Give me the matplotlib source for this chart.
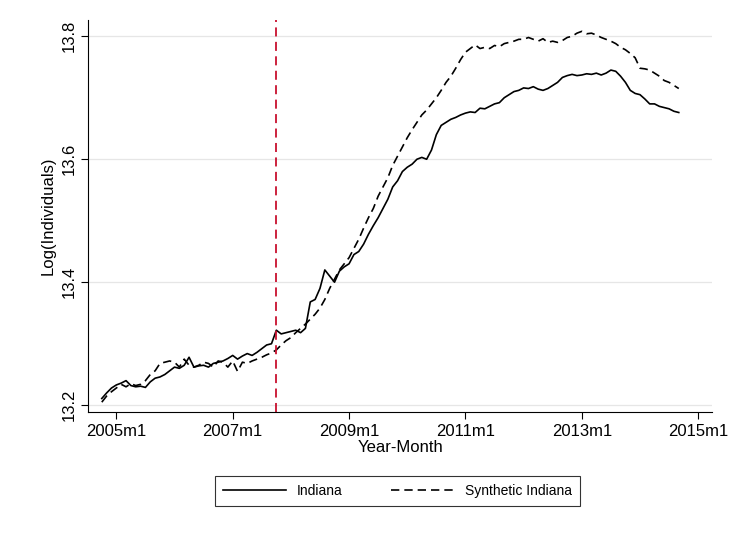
import matplotlib
matplotlib.use("Agg")
import matplotlib.pyplot as plt
import numpy as np
plt.rcParams['font.family'] = ['Liberation Sans', 'DejaVu Sans']

start_year, start_month = 2004, 10
indiana = [13.211, 13.220, 13.228,
 13.233, 13.236, 13.240, 13.232, 13.230, 13.231, 13.229, 13.238, 13.244, 13.246, 13.250, 13.256,
 13.262, 13.260, 13.265, 13.278, 13.262, 13.264, 13.265, 13.262, 13.268, 13.270, 13.272, 13.276,
 13.281, 13.275, 13.280, 13.284, 13.281, 13.286, 13.292, 13.298, 13.300, 13.322, 13.316, 13.318,
 13.320, 13.322, 13.318, 13.325, 13.368, 13.372, 13.390, 13.420, 13.410, 13.400, 13.418, 13.425,
 13.430, 13.445, 13.450, 13.462, 13.478, 13.492, 13.505, 13.520, 13.535, 13.555, 13.565, 13.580,
 13.587, 13.592, 13.600, 13.603, 13.600, 13.615, 13.640, 13.655, 13.660, 13.665, 13.668, 13.672,
 13.675, 13.677, 13.676, 13.683, 13.682, 13.686, 13.690, 13.692, 13.700, 13.705, 13.710, 13.712,
 13.716, 13.715, 13.718, 13.714, 13.712, 13.715, 13.720, 13.725, 13.733, 13.736, 13.738, 13.736,
 13.737, 13.739, 13.738, 13.740, 13.737, 13.740, 13.745, 13.743, 13.735, 13.725, 13.712, 13.707,
 13.705, 13.698, 13.690, 13.690, 13.686, 13.684, 13.682, 13.678, 13.676]
synthetic = [13.205, 13.215, 13.222,
 13.228, 13.234, 13.230, 13.235, 13.232, 13.234, 13.240, 13.250, 13.256, 13.268, 13.270, 13.272,
 13.270, 13.262, 13.275, 13.265, 13.262, 13.265, 13.270, 13.268, 13.262, 13.272, 13.270, 13.262,
 13.272, 13.255, 13.270, 13.268, 13.272, 13.275, 13.278, 13.282, 13.285, 13.290, 13.298, 13.305,
 13.310, 13.318, 13.325, 13.332, 13.340, 13.348, 13.358, 13.372, 13.390, 13.405, 13.420, 13.430,
 13.440, 13.455, 13.470, 13.488, 13.505, 13.520, 13.540, 13.555, 13.570, 13.590, 13.605, 13.620,
 13.635, 13.648, 13.660, 13.672, 13.680, 13.690, 13.700, 13.712, 13.725, 13.735, 13.748, 13.762,
 13.774, 13.780, 13.786, 13.780, 13.782, 13.780, 13.785, 13.783, 13.788, 13.790, 13.792, 13.795,
 13.795, 13.798, 13.795, 13.792, 13.796, 13.790, 13.792, 13.790, 13.793, 13.798, 13.800, 13.805,
 13.808, 13.804, 13.805, 13.802, 13.798, 13.795, 13.792, 13.788, 13.782, 13.778, 13.772, 13.765,
 13.748, 13.747, 13.745, 13.740, 13.735, 13.728, 13.725, 13.720, 13.715]
treatment = (2007, 10)
tick_years = [2005, 2007, 2009, 2011, 2013, 2015]
yticks = [13.2, 13.4, 13.6, 13.8]

x = start_year + (start_month - 1 + np.arange(len(indiana))) / 12.0

fig = plt.figure(figsize=(7.29, 5.33), dpi=100)
ax = fig.add_axes([0.121, 0.227, 0.856, 0.735])
ax.plot(x, indiana, color="black", lw=1.2, label="Indiana")
ax.plot(x, synthetic, color="black", lw=1.2, ls=(0, (5, 3)), label="Synthetic Indiana")
ax.axvline(treatment[0] + (treatment[1] - 1) / 12.0, color="#c8102e", ls=(0, (5, 3)), lw=1.3)
ax.set_xlim(2005 - 5.8 / 12, 2005 + 122.9 / 12)
ax.set_ylim(13.189, 13.826)
ax.set_xticks(tick_years)
ax.set_xticklabels([f"{y}m1" for y in tick_years], fontsize=12)
ax.set_yticks(yticks)
ax.set_yticklabels([f"{v:.1f}" for v in yticks], fontsize=12, rotation=90, va="center")
ax.grid(axis="y", color="#e6e6e6", lw=0.9)
ax.set_axisbelow(True)
for s in ["top", "right"]:
    ax.spines[s].set_visible(False)
ax.tick_params(direction="out", length=5)
ax.set_xlabel("Year-Month", fontsize=12, labelpad=1)
ax.set_ylabel("Log(Individuals)", fontsize=12)
leg = fig.legend(loc="center", bbox_to_anchor=(0.545, 0.079), ncol=2, frameon=True,
                 fancybox=False, edgecolor="black", fontsize=10, handlelength=4.5,
                 columnspacing=3.5, borderpad=0.6)
leg.get_frame().set_linewidth(0.8)
fig.savefig("out.png", dpi=100, facecolor="white")
